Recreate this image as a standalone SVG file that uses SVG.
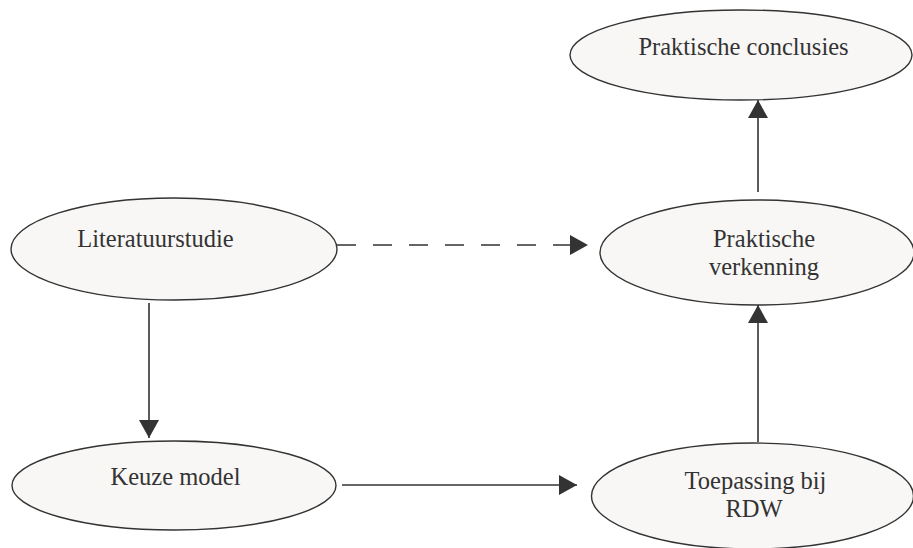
<svg xmlns="http://www.w3.org/2000/svg" width="913" height="548" viewBox="0 0 913 548">
  <style>
    .node ellipse { fill: #f8f7f5; stroke: #333333; stroke-width: 1.4; }
    .node text { font-family: "Liberation Serif", "Times New Roman", serif; font-size: 24.5px; fill: #333333; text-anchor: middle; }
    .edge { stroke: #333333; stroke-width: 1.6; fill: none; marker-end: url(#arrow); }
    .dashed { stroke-dasharray: 19 17; }
  </style>
  <defs>
    <marker id="arrow" markerUnits="userSpaceOnUse" markerWidth="18" markerHeight="20" refX="18" refY="10" orient="auto" viewBox="0 0 18 20">
      <path d="M0,0 L18,10 L0,20 Z" fill="#333333"/>
    </marker>
  </defs>
  <rect width="913" height="548" fill="#ffffff"/>

  <g id="connectors">
    <line class="edge" x1="149" y1="303" x2="149" y2="438"/>
    <line class="edge dashed" x1="337" y1="245" x2="588" y2="245"/>
    <line class="edge" x1="342" y1="485" x2="577" y2="485"/>
    <line class="edge" x1="758" y1="442" x2="758" y2="305"/>
    <line class="edge" x1="758" y1="192" x2="758" y2="100"/>
  </g>

  <g id="node-praktische-conclusies" class="node">
    <ellipse cx="741" cy="55" rx="171" ry="45"/>
    <text x="743.5" y="55">Praktische conclusies</text>
  </g>

  <g id="node-literatuurstudie" class="node">
    <ellipse cx="174" cy="249" rx="163" ry="51"/>
    <text x="155.5" y="247">Literatuurstudie</text>
  </g>

  <g id="node-praktische-verkenning" class="node">
    <ellipse cx="757" cy="252.5" rx="157" ry="52.5"/>
    <text x="764" y="247">Praktische</text>
    <text x="764" y="275">verkenning</text>
  </g>

  <g id="node-keuze-model" class="node">
    <ellipse cx="174" cy="485.5" rx="162" ry="44.5"/>
    <text x="175.5" y="485">Keuze model</text>
  </g>

  <g id="node-toepassing-bij-rdw" class="node">
    <ellipse cx="752.5" cy="496" rx="161" ry="53"/>
    <text x="755.5" y="489">Toepassing bij</text>
    <text x="754" y="517">RDW</text>
  </g>
</svg>
